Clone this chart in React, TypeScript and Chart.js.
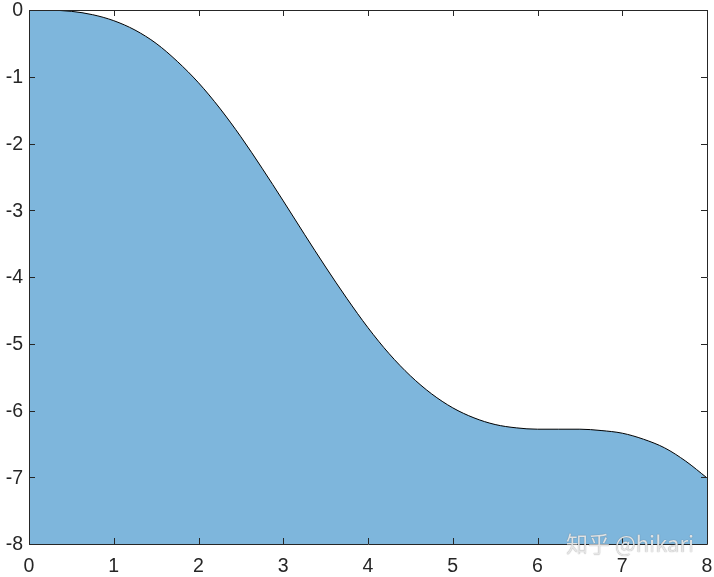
import { useEffect, useRef } from "react";
import { Chart, registerables } from "chart.js";

Chart.register(...registerables);

const xValues = [
  0, 0.25, 0.5, 0.75, 1, 1.25, 1.5, 1.75, 2, 2.25, 2.5, 2.75, 3, 3.25, 3.5, 3.75, 4,
  4.25, 4.5, 4.75, 5, 5.25, 5.5, 5.75, 6, 6.25, 6.5, 6.75, 7, 7.25, 7.5, 7.75, 8,
];
const yValues = [
  0, -0.003, -0.02, -0.07, -0.16, -0.3, -0.5, -0.77, -1.09, -1.47, -1.9, -2.37, -2.86,
  -3.36, -3.85, -4.32, -4.76, -5.15, -5.48, -5.75, -5.96, -6.11, -6.21, -6.26, -6.28,
  -6.28, -6.28, -6.3, -6.34, -6.43, -6.56, -6.76, -7.01,
];
const xTicks = [0, 1, 2, 3, 4, 5, 6, 7, 8];
const yTicks = [0, -1, -2, -3, -4, -5, -6, -7, -8];

const axisColor = "#262626";
const fillColor = "#7eb6dc";
const labelFont = "19.5px 'Liberation Sans', Arial, sans-serif";

// MATLAB-style box with inward ticks on all four sides, plus tick labels
const boxTicks = {
  id: "boxTicks",
  afterDraw(chart: Chart) {
    const { ctx, chartArea } = chart;
    const { left, right, top, bottom } = chartArea;
    const xs = chart.scales.x;
    const ys = chart.scales.y;
    const len = 6;
    ctx.save();
    ctx.strokeStyle = axisColor;
    ctx.lineWidth = 1;
    ctx.beginPath();
    ctx.rect(Math.round(left) + 0.5, Math.round(top) + 0.5, Math.round(right - left), Math.round(bottom - top));
    xTicks.forEach((t) => {
      const px = Math.round(xs.getPixelForValue(t)) + 0.5;
      ctx.moveTo(px, bottom);
      ctx.lineTo(px, bottom - len);
      ctx.moveTo(px, top);
      ctx.lineTo(px, top + len);
    });
    yTicks.forEach((t) => {
      const py = Math.round(ys.getPixelForValue(t)) + 0.5;
      ctx.moveTo(left, py);
      ctx.lineTo(left + len, py);
      ctx.moveTo(right, py);
      ctx.lineTo(right - len, py);
    });
    ctx.stroke();

    ctx.fillStyle = axisColor;
    ctx.font = labelFont;
    ctx.textBaseline = "middle";
    ctx.textAlign = "center";
    xTicks.forEach((t) => {
      ctx.fillText(String(t), xs.getPixelForValue(t), bottom + 23);
    });
    ctx.textAlign = "right";
    yTicks.forEach((t) => {
      ctx.fillText(String(t), left - 6, ys.getPixelForValue(t) + 1);
    });
    ctx.restore();
  },
};

function AreaChart() {
  const chartRef = useRef<HTMLCanvasElement | null>(null);
  const chartInstance = useRef<Chart | null>(null);

  useEffect(() => {
    document.body.style.margin = "0";
    if (!chartRef.current) return;
    const ctx = chartRef.current.getContext("2d");
    if (!ctx) return;

    if (chartInstance.current) {
      chartInstance.current.destroy();
    }

    const points = xValues.map((x, i) => ({ x, y: yValues[i] }));

    chartInstance.current = new Chart(ctx, {
      type: "line",
      data: {
        datasets: [
          {
            data: points,
            borderColor: "#000000",
            borderWidth: 1,
            backgroundColor: fillColor,
            fill: "start",
            pointRadius: 0,
            cubicInterpolationMode: "monotone",
          },
        ],
      },
      options: {
        responsive: false,
        animation: false,
        layout: { padding: { top: 10, right: 7, left: 0, bottom: 0 } },
        plugins: {
          legend: { display: false },
          tooltip: { enabled: false },
        },
        scales: {
          x: {
            type: "linear",
            min: 0,
            max: 8,
            grid: { display: false },
            border: { display: false },
            ticks: { display: false, stepSize: 1 },
            afterFit: (scale: any) => {
              scale.height = 33;
            },
          },
          y: {
            type: "linear",
            min: -8,
            max: 0,
            grid: { display: false },
            border: { display: false },
            ticks: { display: false, stepSize: 1 },
            afterFit: (scale: any) => {
              scale.width = 29;
            },
          },
        },
      },
      plugins: [boxTicks],
    });

    return () => {
      if (chartInstance.current) {
        chartInstance.current.destroy();
        chartInstance.current = null;
      }
    };
  }, []);

  return <canvas ref={chartRef} width={714} height={577} />;
}

export default function App() {
  return (
    <div style={{ position: "relative", width: 714, height: 577, background: "#ffffff" }}>
      <AreaChart />
      <div
        style={{
          position: "absolute",
          left: 566,
          top: 527,
          fontFamily: "'Noto Sans CJK SC', 'Liberation Sans', sans-serif",
          fontSize: 22,
          lineHeight: "30px",
          color: "rgba(238,238,238,0.9)",
          textShadow: "0 0 1px rgba(0,0,0,0.45)",
          whiteSpace: "nowrap",
        }}
      >
        知乎 @hikari
      </div>
    </div>
  );
}
